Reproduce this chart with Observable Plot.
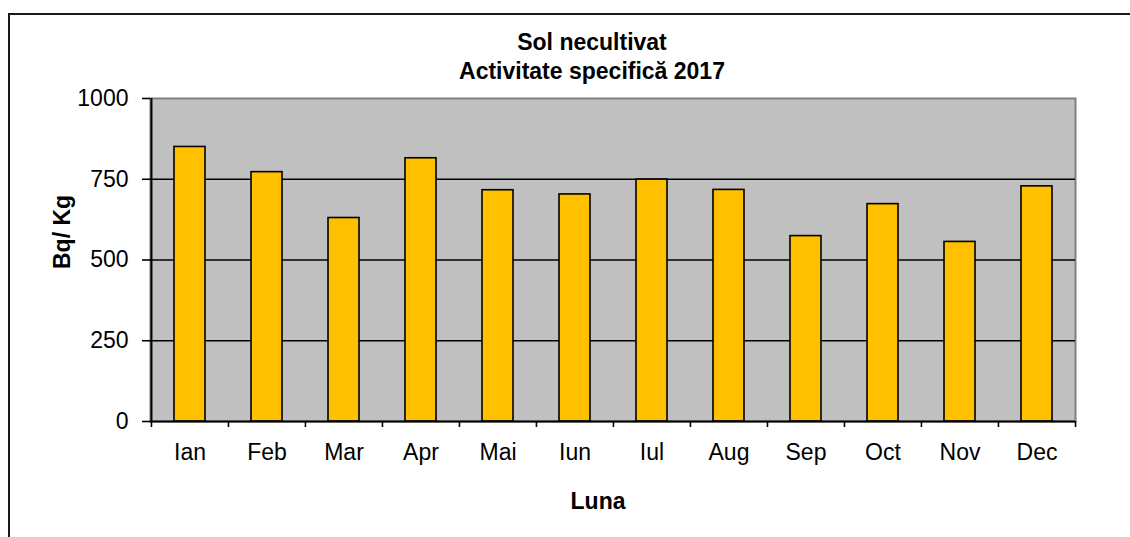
<!DOCTYPE html>
<html>
<head>
<meta charset="utf-8">
<script src="https://cdn.jsdelivr.net/npm/d3@7"></script>
<script src="https://cdn.jsdelivr.net/npm/@observablehq/plot@0.6"></script>
<style>
  html, body { margin: 0; padding: 0; background: #fff; }
  #wrap { position: relative; width: 1130px; height: 537px; overflow: hidden; }
  #border { position: absolute; left: 8px; top: 13px; width: 1200px; height: 600px; border: 2px solid #1a1a1a; box-sizing: border-box; pointer-events: none; }
  svg { display: block; }
</style>
</head>
<body>
<div id="wrap"><div id="border"></div></div>
<script>
const months = ["Ian", "Feb", "Mar", "Apr", "Mai", "Iun", "Iul", "Aug", "Sep", "Oct", "Nov", "Dec"];
const values = [850, 772, 630, 815, 716, 703, 749, 717, 574, 673, 556, 728];
const yTicks = [0, 250, 500, 750, 1000];
const gridValues = [250, 500, 750];
const titleLines = ["Sol necultivat", "Activitate specifică 2017"];
const xTitle = "Luna";
const yTitle = "Bq/ Kg";

const data = months.map((m, i) => ({month: m, value: values[i]}));

const W = 1130, H = 537, mL = 150, mR = 55, mT = 98, mB = 116;
const step = (W - mL - mR) / months.length;
const font = "'Liberation Sans', Arial, sans-serif";

const chart = Plot.plot({
  width: W,
  height: H,
  marginLeft: mL,
  marginRight: mR,
  marginTop: mT,
  marginBottom: mB,
  style: {fontFamily: font, fontSize: "23px", color: "#000", background: "transparent", overflow: "visible"},
  x: {domain: months, paddingInner: 0.6, paddingOuter: 0.3, label: null},
  y: {domain: [0, 1000], label: null},
  marks: [
    Plot.frame({fill: "#c0c0c0", stroke: "#808080", strokeWidth: 2}),
    Plot.ruleY(gridValues, {stroke: "#000", strokeWidth: 1.6}),
    Plot.barY(data, {x: "month", y: "value", fill: "#ffc000", stroke: "#000", strokeWidth: 1.6}),
    Plot.ruleY([0], {stroke: "#000", strokeWidth: 2}),
    Plot.ruleX([months[0]], {x: d => d, dx: -step / 2, y1: 0, y2: 1000, stroke: "#000", strokeWidth: 2}),
    Plot.axisY({ticks: yTicks, tickFormat: d => String(d), tickSize: 8, tickPadding: 14, fontSize: 23, stroke: "#000", strokeWidth: 1.6, label: null}),
    Plot.axisX({tickSize: 0, tickPadding: 22, fontSize: 23, label: null}),
    Plot.axisX({tickSize: 6, dx: -step / 2, text: null, label: null, stroke: "#000", strokeWidth: 1.6}),
    Plot.axisX({ticks: [months[months.length - 1]], tickSize: 6, dx: step / 2, text: null, label: null, stroke: "#000", strokeWidth: 1.6}),
    Plot.text([titleLines[0]], {frameAnchor: "top", dx: -21, dy: -56, text: d => d, fontWeight: "bold", fontSize: 23, lineAnchor: "middle"}),
    Plot.text([titleLines[1]], {frameAnchor: "top", dx: -21, dy: -27, text: d => d, fontWeight: "bold", fontSize: 23, lineAnchor: "middle"}),
    Plot.text([xTitle], {frameAnchor: "bottom", dx: -15, dy: 80, text: d => d, fontWeight: "bold", fontSize: 23, lineAnchor: "middle"}),
    Plot.text([yTitle], {frameAnchor: "left", dx: -88, dy: 9, rotate: -90, text: d => d, fontWeight: "bold", fontSize: 23, lineAnchor: "middle"})
  ]
});
document.getElementById("wrap").prepend(chart);
</script>
</body>
</html>
